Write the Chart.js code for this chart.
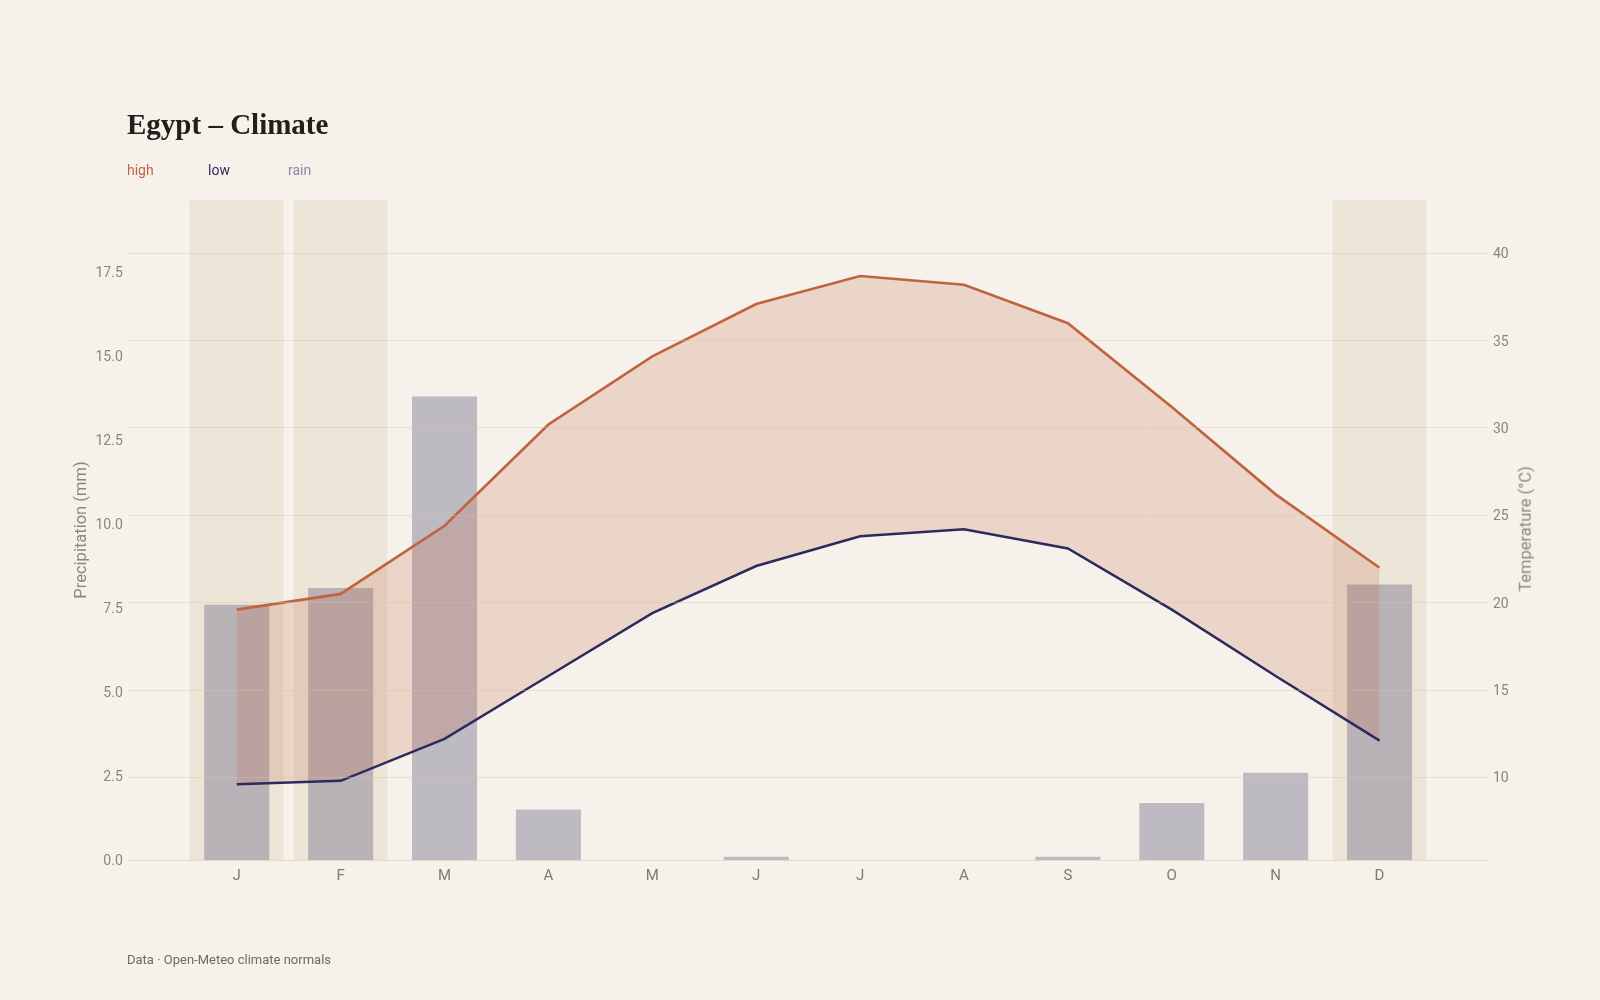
<!DOCTYPE html>
<html>
<head>
<meta charset="utf-8">
<title>Egypt – Climate</title>
<script src="https://cdn.jsdelivr.net/npm/chart.js@4.4.1/dist/chart.umd.min.js"></script>
<style>
  html, body { margin: 0; padding: 0; background: #f6f2eb; }
  body { width: 1600px; height: 1000px; position: relative; overflow: hidden; font-family: Roboto, sans-serif; }
  #wrap { position: absolute; left: 0; top: 0; width: 1600px; height: 1000px; }
  .title { position: absolute; left: 127px; top: 110px; margin: 0; line-height: 1;
           font: bold 29px/1 "Liberation Serif", serif; color: #23201b; }
  .key { position: absolute; top: 163px; font-size: 14px; line-height: 1; }
  .foot { position: absolute; left: 127px; top: 953px; font-size: 13px; line-height: 1; color: #6f6a62; }
  .ytitle { position: absolute; font-size: 16.5px; line-height: 1; color: #8c877e; white-space: nowrap;
            transform: translate(-50%, -50%) rotate(-90deg); }
</style>
</head>
<body>
<div id="wrap"><canvas id="climate"></canvas></div>
<h1 class="title">Egypt – Climate</h1>
<span class="key" style="left:127px;color:#c0643f">high</span>
<span class="key" style="left:208px;color:#2d2a5e">low</span>
<span class="key" style="left:288px;color:#8a87a8">rain</span>
<span class="ytitle" style="left:1526px;top:529px">Temperature (°C)</span>
<div class="foot">Data · Open-Meteo climate normals</div>

<script>
// ---------- data ----------
const months = ["J", "F", "M", "A", "M", "J", "J", "A", "S", "O", "N", "D"];
const highTemp = [19.6, 20.5, 24.4, 30.2, 34.1, 37.1, 38.7, 38.2, 36.0, 31.2, 26.2, 22.0];
const lowTemp = [9.6, 9.8, 12.2, 15.8, 19.4, 22.1, 23.8, 24.2, 23.1, 19.6, 15.8, 12.1];
const rain = [7.6, 8.1, 13.8, 1.5, 0, 0.1, 0, 0, 0.1, 1.7, 2.6, 8.2];
const winterMonths = [0, 1, 11];
const rainTicks = [0, 2.5, 5, 7.5, 10, 12.5, 15, 17.5];
const tempTicks = [10, 15, 20, 25, 30, 35, 40];

// ---------- colours ----------
const ORANGE = "#c0643f";
const NAVY = "#2d2a5e";
const TICK = "#8a857d";

const toPoints = arr => arr.map((v, i) => ({ x: i, y: v }));

const $canvas = document.getElementById("climate");
$canvas.width = 1600;
$canvas.height = 1000;

new Chart($canvas, {
    data: {
        datasets: [
            {
                type: "line",
                label: "high",
                data: toPoints(highTemp),
                yAxisID: "yT",
                borderColor: ORANGE,
                borderWidth: 2.7,
                pointRadius: 0,
                tension: 0,
                fill: "+1",
                backgroundColor: "rgba(193,100,62,0.2)",
                order: 1
            },
            {
                type: "line",
                label: "low",
                data: toPoints(lowTemp),
                yAxisID: "yT",
                borderColor: NAVY,
                borderWidth: 2.5,
                pointRadius: 0,
                tension: 0,
                fill: false,
                order: 0
            },
            {
                type: "bar",
                label: "rain",
                data: toPoints(rain),
                yAxisID: "yR",
                backgroundColor: "rgba(95,90,125,0.37)",
                borderWidth: 0,
                grouped: false,
                categoryPercentage: 1,
                barPercentage: 0.626,
                order: 2
            },
            {
                type: "bar",
                label: "winter",
                data: months.map((m, i) => ({ x: i, y: winterMonths.includes(i) ? 1 : null })),
                yAxisID: "yBand",
                backgroundColor: "rgba(212,195,168,0.27)",
                borderColor: "rgba(212,195,168,0.38)",
                borderWidth: 1,
                borderSkipped: false,
                grouped: false,
                categoryPercentage: 1,
                barPercentage: 0.902,
                order: 3
            }
        ]
    },
    options: {
        responsive: false,
        animation: false,
        layout: { padding: { left: 70.6, right: 65.5, top: 200, bottom: 100 } },
        plugins: {
            legend: { display: false },
            tooltip: { enabled: false }
        },
        scales: {
            x: {
                type: "linear",
                offset: false,
                min: -1.044,
                max: 12.044,
                afterBuildTicks: s => { s.ticks = months.map((m, i) => ({ value: i })); },
                afterFit: s => { s.height = 40; },
                grid: { display: false, drawTicks: false, offset: false },
                border: { display: true, color: "#e3dac8", width: 1 },
                ticks: {
                    padding: 7,
                    color: "#7f7a72",
                    font: { family: "Roboto", size: 15 },
                    callback: v => months[v]
                }
            },
            yR: {
                position: "left",
                min: 0,
                max: 19.65,
                afterBuildTicks: s => { s.ticks = rainTicks.map(v => ({ value: v })); },
                afterFit: s => { s.width = 57.7; },
                grid: { display: false, drawTicks: false },
                border: { display: false },
                ticks: {
                    padding: 5.5,
                    labelOffset: 1.5,
                    color: TICK,
                    font: { family: "Roboto", size: 14 },
                    callback: v => v.toFixed(1)
                },
                title: {
                    display: true,
                    text: "Precipitation (mm)",
                    color: "#8c877e",
                    font: { family: "Roboto", size: 16.5 },
                    padding: { top: 1, bottom: 0 }
                }
            },
            yT: {
                position: "right",
                min: 5.27,
                max: 43.05,
                afterBuildTicks: s => { s.ticks = tempTicks.map(v => ({ value: v })); },
                afterFit: s => { s.width = 46.5; },
                grid: { color: "rgba(210,195,165,0.42)", lineWidth: 1, drawTicks: false, z: 1 },
                border: { display: false },
                ticks: {
                    padding: 5,
                    labelOffset: 1.5,
                    color: TICK,
                    font: { family: "Roboto", size: 14 },
                    callback: v => String(v)
                }
            },
            yBand: {
                display: false,
                min: 0,
                max: 1
            }
        }
    }
});
</script>
</body>
</html>
